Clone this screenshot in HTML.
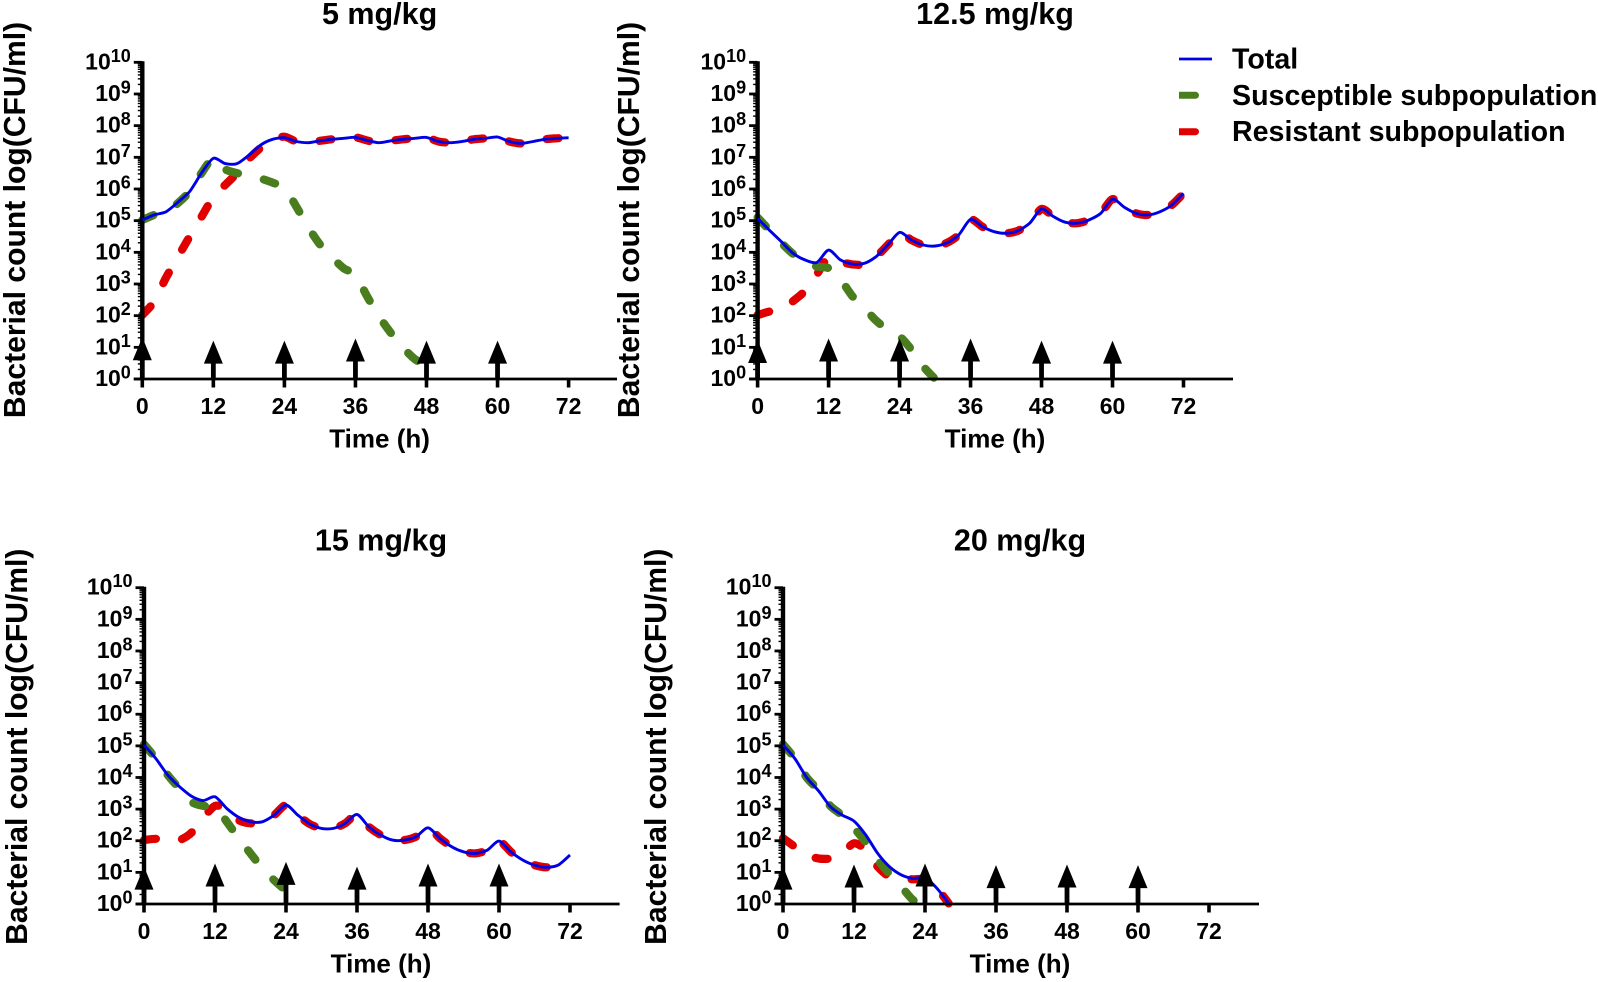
<!DOCTYPE html>
<html lang="en">
<head>
<meta charset="utf-8">
<title>Bacterial count over time by dose</title>
<style>
html,body{margin:0;padding:0;background:#fff;}
body{width:1598px;height:982px;overflow:hidden;}
svg{display:block;font-family:"Liberation Sans",Arial,sans-serif;font-weight:bold;fill:#000;}
</style>
</head>
<body>
<svg id="chart" xmlns="http://www.w3.org/2000/svg" width="1598" height="982" viewBox="0 0 1598 982">
  <g id="panels"></g>
  <g>
    <line x1="1179" y1="59" x2="1212" y2="59" stroke="#0000e6" stroke-width="2.8"/>
    <text x="1232" y="68.5" font-size="28.6">Total</text>
    <path d="M1179 91.8H1195.5a3.5 3.5 0 0 1 0 7H1179Z" fill="#4a7d1e"/>
    <text x="1232" y="105" font-size="28.6">Susceptible subpopulation</text>
    <path d="M1179 128.2H1195.5a3.5 3.5 0 0 1 0 7H1179Z" fill="#e00000"/>
    <text x="1232" y="141" font-size="28.6">Resistant subpopulation</text>
  </g>
</svg>
<script>
// Shared axis data
const hours = [0,2,4,6,8,10,12,14,16,18,20,22,24,26,28,30,32,34,36,38,40,42,44,46,48,50,52,54,56,58,60,62,64,66,68,70,72];
const xTicks = [0,12,24,36,48,60,72];
const yExponents = [0,1,2,3,4,5,6,7,8,9,10];
const doseHours = [0,12,24,36,48,60];

// All series values are log10(CFU/ml), sampled on `hours`
const total5 = [5.02,5.18,5.28,5.58,5.92,6.5,6.97,6.8,6.8,7.07,7.39,7.57,7.62,7.5,7.46,7.52,7.57,7.6,7.63,7.53,7.46,7.52,7.57,7.6,7.63,7.5,7.46,7.5,7.57,7.6,7.64,7.5,7.44,7.5,7.57,7.6,7.62];
const susceptible5 = [5.02,5.18,5.28,5.55,5.92,6.5,6.97,6.62,6.5,6.4,6.33,6.2,6.03,5.45,4.8,4.25,3.85,3.5,3.28,2.6,1.97,1.45,1.0,0.63,0.42];
const resistant5 = [2.02,2.44,3.2,3.85,4.5,5.12,5.75,6.13,6.5,6.95,7.3,7.55,7.65,7.5,7.46,7.52,7.57,7.6,7.63,7.53,7.46,7.52,7.57,7.6,7.63,7.5,7.46,7.5,7.57,7.6,7.64,7.5,7.44,7.5,7.57,7.6,7.62];
const arrows5 = [1.32,1.21,1.21,1.28,1.21,1.21];

const total12 = [5.07,4.7,4.34,3.97,3.76,3.68,4.07,3.76,3.63,3.65,3.86,4.23,4.63,4.39,4.23,4.2,4.3,4.55,5.04,4.81,4.65,4.6,4.68,4.92,5.37,5.13,4.95,4.92,5.02,5.23,5.68,5.42,5.23,5.18,5.28,5.49,5.86];
const susceptible12 = [5.1,4.7,4.3,3.95,3.72,3.55,3.5,3.15,2.62,2.25,1.85,1.55,1.35,0.93,0.4,0];
const resistant12 = [2.02,2.13,2.2,2.46,2.78,3.3,3.85,3.7,3.62,3.62,3.86,4.23,4.63,4.39,4.23,4.2,4.3,4.55,5.04,4.81,4.65,4.6,4.68,4.92,5.37,5.13,4.95,4.92,5.02,5.23,5.68,5.42,5.23,5.18,5.28,5.49,5.86];
const arrows12 = [1.23,1.28,1.28,1.28,1.21,1.21];

const total15 = [5.03,4.6,4.08,3.71,3.41,3.27,3.39,3.02,2.74,2.6,2.6,2.81,3.13,2.81,2.53,2.39,2.39,2.55,2.83,2.44,2.18,2.02,2.02,2.13,2.41,2.08,1.81,1.65,1.6,1.7,1.99,1.65,1.39,1.23,1.16,1.23,1.55];
const susceptible15 = [5.05,4.6,4.08,3.65,3.23,3.1,3.08,2.6,2.08,1.6,1.13,0.75,0.42];
const resistant15 = [2.02,2.06,2.0,2.02,2.25,2.72,3.1,3.0,2.65,2.55,2.58,2.81,3.13,2.81,2.53,2.39,2.39,2.55,2.83,2.44,2.18,2.02,2.02,2.13,2.41,2.08,1.81,1.65,1.6,1.7,1.99,1.65,1.39,1.23,1.16,1.23];
const arrows15 = [1.18,1.28,1.33,1.18,1.28,1.28];

const total20 = [5.03,4.6,4.0,3.58,3.08,2.81,2.62,2.18,1.6,1.18,0.92,0.81,0.83,0.5,0.02];
const susceptible20 = [5.05,4.6,4.0,3.6,3.1,2.8,2.4,1.95,1.4,0.95,0.55,0.12,0];
const resistant20 = [2.08,1.81,1.55,1.44,1.44,1.6,1.92,1.71,1.18,0.86,0.81,0.78,0.78,0.5,0.02];
const arrows20 = [1.18,1.25,1.28,1.23,1.25,1.23];

const panelTitles = ['5 mg/kg','12.5 mg/kg','15 mg/kg','20 mg/kg'];
const yAxisTitle = 'Bacterial count log(CFU/ml)';
const xAxisTitle = 'Time (h)';

const NS = 'http://www.w3.org/2000/svg';
const root = document.getElementById('panels');

function mk(parent, tag, attrs, txt) {
  const el = document.createElementNS(NS, tag);
  for (const k in attrs) el.setAttribute(k, attrs[k]);
  if (txt !== undefined) el.textContent = txt;
  parent.appendChild(el);
  return el;
}

// Cardinal spline through the data points so lines read as smooth model curves
function smoothPath(pts) {
  const k = 0.13;
  let d = 'M' + pts[0][0].toFixed(1) + ' ' + pts[0][1].toFixed(1);
  for (let i = 0; i < pts.length - 1; i++) {
    const a = pts[Math.max(i - 1, 0)];
    const b = pts[i];
    const c = pts[i + 1];
    const e = pts[Math.min(i + 2, pts.length - 1)];
    const c1x = b[0] + (c[0] - a[0]) * k;
    const c1y = b[1] + (c[1] - a[1]) * k;
    const c2x = c[0] - (e[0] - b[0]) * k;
    const c2y = c[1] - (e[1] - b[1]) * k;
    d += 'C' + c1x.toFixed(1) + ' ' + c1y.toFixed(1) + ' ' + c2x.toFixed(1) + ' ' + c2y.toFixed(1) + ' ' + c[0].toFixed(1) + ' ' + c[1].toFixed(1);
  }
  return d;
}

function drawSeries(g, values, xs, ys, color, width, dashed, name) {
  const pts = values.map((v, i) => [xs(hours[i]), ys(v)]);
  const attrs = {d: smoothPath(pts), fill: 'none', stroke: color, 'stroke-width': width, 'stroke-linejoin': 'round'};
  if (dashed) {
    attrs['stroke-dasharray'] = '12 26.5';
    attrs['stroke-linecap'] = 'round';
  }
  const el = mk(g, 'path', attrs);
  
  
}

function drawPanel(p) {
  const g = mk(root, 'g', {});
  
  
  const xs = h => p.x0 + (h / 72) * (p.x72 - p.x0);
  const ys = v => p.y0 - (v / 10) * (p.y0 - p.y10);

  drawSeries(g, p.resistant, xs, ys, '#e00000', 8.2, true, 'resistant-line-' + p.key);
  drawSeries(g, p.susceptible, xs, ys, '#4a7d1e', 8.2, true, 'susceptible-line-' + p.key);

  // y axis minor ticks
  const minorGroup = mk(g, 'g', {stroke: '#000', 'stroke-width': 1.4});
  
  
  for (let d = 0; d < 10; d++) {
    for (let m = 2; m < 10; m++) {
      const yy = ys(d + Math.log10(m));
      mk(minorGroup, 'line', {x1: p.x0 - 4.5, x2: p.x0, y1: yy, y2: yy});
    }
  }

  // y axis
  const yAxis = mk(g, 'line', {x1: p.x0, x2: p.x0, y1: p.y10 - 1, y2: p.y0 + 1, stroke: '#000', 'stroke-width': 4.4});
  
  

  yExponents.forEach(e => {
    const yy = ys(e);
    const tick = mk(g, 'line', {x1: p.x0 - 8.5, x2: p.x0, y1: yy, y2: yy, stroke: '#000', 'stroke-width': 2.8});
    
    
    const label = mk(g, 'text', {x: p.x0 - 11.5, y: yy + 7, 'text-anchor': 'end', 'font-size': 23}, '10');
    
    
    mk(label, 'tspan', {dy: -7.5, 'font-size': 18}, String(e));
  });

  // x axis
  const xAxis = mk(g, 'line', {x1: p.x0 - 8.5, x2: p.xEnd, y1: p.y0, y2: p.y0, stroke: '#000', 'stroke-width': 2.8});
  
  

  xTicks.forEach(h => {
    const xx = xs(h);
    const tick = mk(g, 'line', {x1: xx, x2: xx, y1: p.y0, y2: p.y0 + 8.5, stroke: '#000', 'stroke-width': 3.6});
    
    
    const label = mk(g, 'text', {x: xx, y: p.y0 + 35, 'text-anchor': 'middle', 'font-size': 23}, String(h));
    
    
  });

  drawSeries(g, p.total, xs, ys, '#0000e6', 2.9, false, 'total-line-' + p.key);

  // dose arrows
  doseHours.forEach((h, i) => {
    const xx = xs(h);
    const tip = ys(p.arrows[i]);
    const arrow = mk(g, 'g', {fill: '#000', stroke: '#000'});
    
    
    mk(arrow, 'polygon', {points: (xx - 9.5) + ',' + (tip + 23) + ' ' + xx + ',' + tip + ' ' + (xx + 9.5) + ',' + (tip + 23), stroke: 'none'});
    mk(arrow, 'line', {x1: xx, x2: xx, y1: tip + 22, y2: p.y0, 'stroke-width': 4.8});
  });

  const title = mk(g, 'text', {x: p.titleX, y: p.titleY, 'text-anchor': 'middle', 'font-size': 30.5}, p.title);
  
  

  const xTitle = mk(g, 'text', {x: p.titleX, y: p.y0 + 68.5, 'text-anchor': 'middle', 'font-size': 26}, xAxisTitle);
  
  

  const yTitle = mk(g, 'text', {transform: 'translate(' + p.yTitleX + ' ' + p.yTitleY + ') rotate(-90)', 'text-anchor': 'middle', 'font-size': 30.1}, yAxisTitle);
  
  
}

drawPanel({key: '5mg', title: panelTitles[0], x0: 142.3, x72: 568.6, xEnd: 617, y10: 62.3, y0: 379, titleX: 379.6, titleY: 24, yTitleX: 25, yTitleY: 220, total: total5, susceptible: susceptible5, resistant: resistant5, arrows: arrows5});
drawPanel({key: '12-5mg', title: panelTitles[1], x0: 757.6, x72: 1183.5, xEnd: 1233, y10: 62.3, y0: 379, titleX: 995, titleY: 24, yTitleX: 639, yTitleY: 220, total: total12, susceptible: susceptible12, resistant: resistant12, arrows: arrows12});
drawPanel({key: '15mg', title: panelTitles[2], x0: 144, x72: 570, xEnd: 619.6, y10: 587.7, y0: 904, titleX: 381, titleY: 550.5, yTitleX: 27, yTitleY: 746.7, total: total15, susceptible: susceptible15, resistant: resistant15, arrows: arrows15});
drawPanel({key: '20mg', title: panelTitles[3], x0: 783, x72: 1209, xEnd: 1259, y10: 587.7, y0: 904, titleX: 1020, titleY: 550.5, yTitleX: 666, yTitleY: 746.7, total: total20, susceptible: susceptible20, resistant: resistant20, arrows: arrows20});
</script>
</body>
</html>
